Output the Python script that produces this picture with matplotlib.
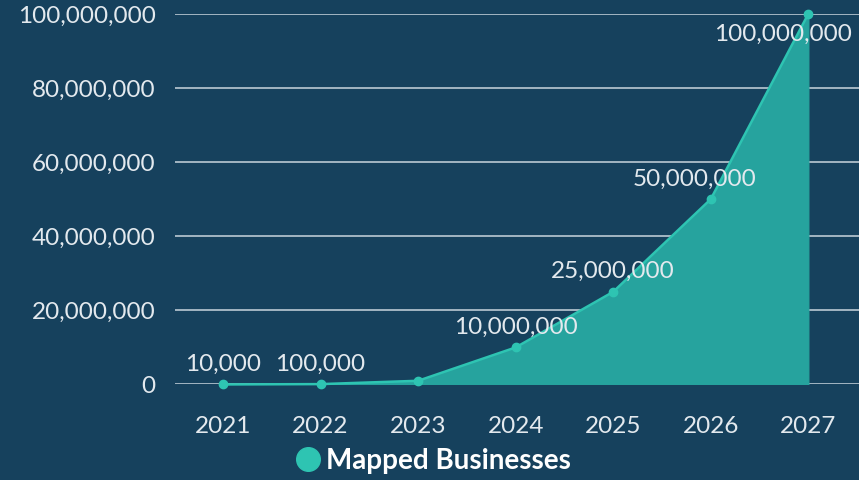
import matplotlib.pyplot as plt
from matplotlib.lines import Line2D
import matplotlib.ticker as ticker

years = ['2021', '2022', '2023', '2024', '2025', '2026', '2027']
businesses = [10000, 100000, 1000000, 10000000, 25000000, 50000000, 100000000]
point_labels = ['10,000', '100,000', '', '10,000,000', '25,000,000', '50,000,000', '100,000,000']
y_ticks = [0, 20000000, 40000000, 60000000, 80000000, 100000000]

bg = '#16415d'
teal_line = '#2ec4b2'
teal_fill = '#26a39e'
text_col = '#e3e9ee'

plt.rcParams['font.family'] = ['Lato', 'DejaVu Sans']

fig = plt.figure(figsize=(8.59, 4.8), dpi=100, facecolor=bg)
ax = fig.add_axes([0.204, 0.199, 0.796, 0.772])
ax.set_facecolor(bg)

x = list(range(len(years)))
ax.fill_between(x, 0, businesses, color=teal_fill, zorder=2)
ax.plot(x, businesses, color=teal_line, linewidth=1.8, marker='o', markersize=6,
        clip_on=False, zorder=3)

# data labels: above the point, last one below and pulled inside
for i, (xi, v, lab) in enumerate(zip(x, businesses, point_labels)):
    if not lab:
        continue
    if i == len(x) - 1:
        off = (-18, -15)
    elif i == len(x) - 2:
        off = (-11.5, 14)
    else:
        off = (0, 14.5)
    ax.annotate(lab, (xi, v), xytext=off, textcoords='offset points',
                ha='center', va='center', color=text_col, fontsize=17.5, zorder=4)

ax.set_xlim(-0.49, 6.52)
ax.set_ylim(0, 100000000)
ax.set_xticks(x)
ax.set_xticklabels(years)
ax.set_yticks(y_ticks)
ax.yaxis.set_major_formatter(ticker.FuncFormatter(lambda v, p: f'{int(v):,}'))

ax.grid(axis='y', color='#c9d5de', linewidth=1.1, zorder=1)
ax.set_axisbelow(True)
for s in ax.spines.values():
    s.set_visible(False)
ax.tick_params(axis='both', length=0, colors=text_col, labelsize=17.5)
ax.tick_params(axis='x', pad=23)
ax.tick_params(axis='y', pad=14)

handle = Line2D([], [], marker='o', linestyle='none', markersize=17,
                markerfacecolor=teal_line, markeredgecolor=teal_line)
leg = fig.legend([handle], ['Mapped Businesses'], loc='center',
                 bbox_to_anchor=(0.503, 0.04), frameon=False, handlelength=1.0,
                 handletextpad=0.15, borderpad=0,
                 prop={'size': 20, 'weight': 'bold'})
for t in leg.get_texts():
    t.set_color('white')

fig.savefig('out.png', dpi=100, facecolor=bg)
